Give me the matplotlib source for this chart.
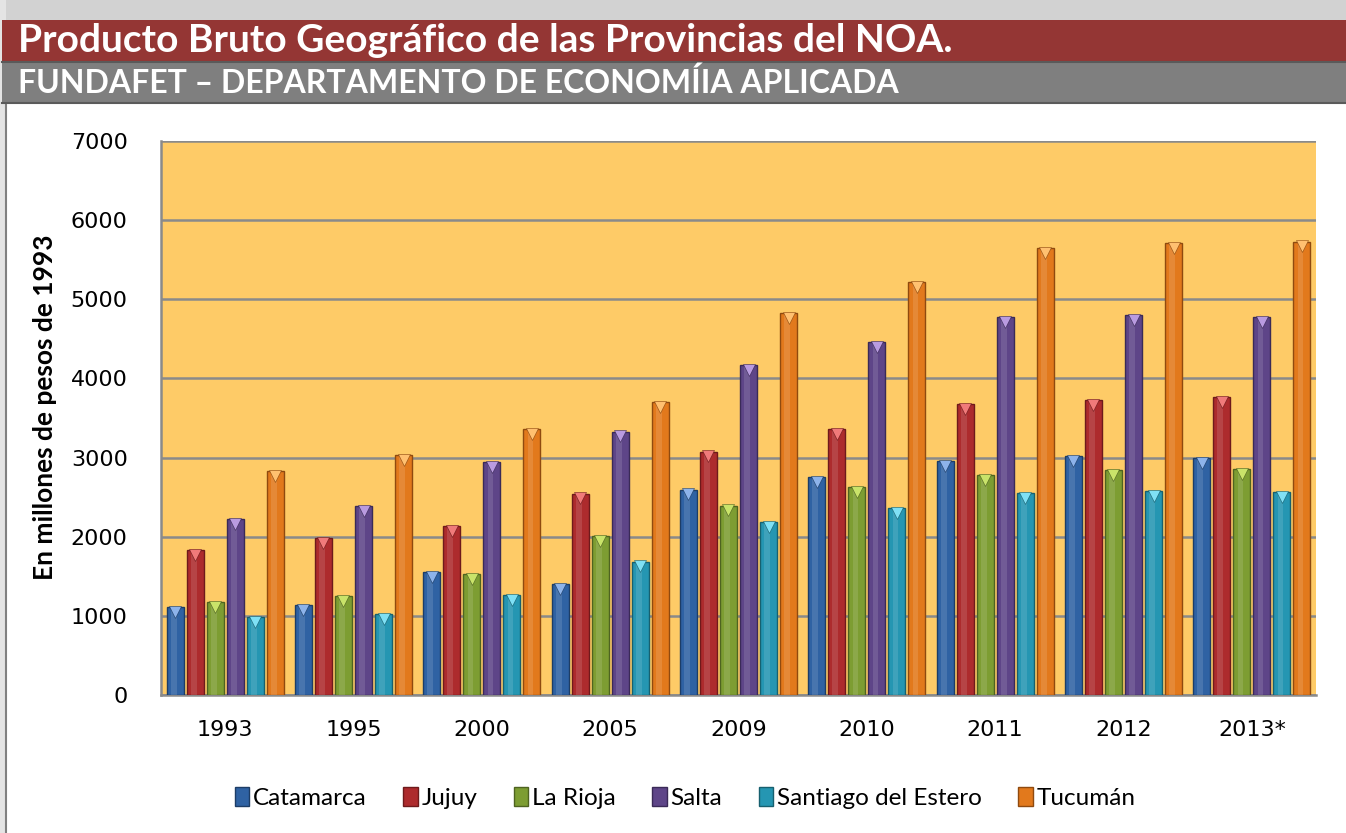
import numpy as np
import matplotlib.pyplot as plt
from matplotlib.patches import Rectangle
from matplotlib.lines import Line2D

years = ["1993", "1995", "2000", "2005", "2009", "2010", "2011", "2012", "2013*"]
provincias = ["Catamarca", "Jujuy", "La Rioja", "Salta", "Santiago del Estero", "Tucumán"]

catamarca = [1112, 1138, 1555, 1405, 2595, 2756, 2958, 3021, 2996]
jujuy = [1833, 1985, 2137, 2544, 3076, 3363, 3679, 3729, 3767]
la_rioja = [1176, 1252, 1530, 2005, 2392, 2629, 2781, 2844, 2857]
salta = [2225, 2389, 2946, 3329, 4172, 4463, 4779, 4804, 4779]
santiago = [986, 1024, 1264, 1684, 2187, 2364, 2554, 2579, 2566]
tucuman = [2832, 3034, 3363, 3696, 4829, 5221, 5651, 5714, 5727]

series = [catamarca, jujuy, la_rioja, salta, santiago, tucuman]
colores = ["#2f62a3", "#ad2b2d", "#7d9d32", "#5e4588", "#2596b2", "#e2791c"]
bordes = ["#1d3d66", "#6e1a1b", "#4e6320", "#3a2a57", "#17606f", "#8f4a0f"]
claros = ["#8db3ea", "#f07a7a", "#c9e36a", "#b99be0", "#7fe0f5", "#ffc070"]

fig = plt.figure(figsize=(13.46, 8.33), dpi=100)
fig.patch.set_facecolor("white")

W, H = 1346, 833
def px(x0, y0, w, h):
    return (x0 / W, 1 - (y0 + h) / H), w / W, h / H

# fondos de encabezado
for (x0, y0, w, h), c in [((0, 0, W, 20), "#d2d2d2"),
                          ((0, 0, 6, H), "#e4e4e4"),
                          ((2, 20, W, 42), "#943634"),
                          ((2, 62, W, 41), "#7f7f7f")]:
    xy, ww, hh = px(x0, y0, w, h)
    fig.patches.append(Rectangle(xy, ww, hh, transform=fig.transFigure,
                                 facecolor=c, edgecolor="none", zorder=0))
fig.add_artist(Line2D([6 / W, 6 / W], [0, 1 - 103 / H], transform=fig.transFigure,
                      color="#808080", lw=1.5))
fig.add_artist(Line2D([2 / W, 1], [1 - 62 / H, 1 - 62 / H], transform=fig.transFigure,
                      color="#5a5a5a", lw=1.5))
fig.add_artist(Line2D([2 / W, 1], [1 - 103 / H, 1 - 103 / H], transform=fig.transFigure,
                      color="#5a5a5a", lw=1.5))

fig.text(18 / W, 1 - 40 / H, "Producto Bruto Geográfico de las Provincias del NOA.",
         color="white", fontsize=28, fontweight="bold", family="Lato", va="center")
fig.text(18 / W, 1 - 83 / H, "FUNDAFET – DEPARTAMENTO DE ECONOMÍIA APLICADA",
         color="white", fontsize=23, fontweight="bold", family="Lato", va="center")

ax = fig.add_axes([161 / W, 1 - 695 / H, (1316 - 161) / W, (695 - 141) / H])
ax.set_facecolor("#fecb67")

x = np.arange(len(years))
paso = 0.156
ancho = 0.132
for i, (vals, c, b, cl, nombre) in enumerate(zip(series, colores, bordes, claros, provincias)):
    pos = x + (i - 2.5) * paso
    ax.bar(pos, vals, width=ancho, color=c, edgecolor=b, linewidth=1.0, zorder=3, label=nombre)
    # brillo central
    ax.bar(pos - ancho * 0.08, vals, width=ancho * 0.35, color="white", alpha=0.12,
           linewidth=0, zorder=4)
    ax.plot(pos, np.array(vals) - 60, linestyle="none", marker="v", markersize=8,
            color=cl, markeredgecolor=b, markeredgewidth=0.4, zorder=5)

ax.set_xlim(-0.5, len(years) - 0.5)
ax.set_ylim(0, 7000)
ax.set_yticks(range(0, 7001, 1000))
ax.set_xticks(x)
ax.set_xticklabels(years)
ax.grid(axis="y", color="#8a8a8a", linewidth=1.8, zorder=1)
ax.set_axisbelow(True)
for s in ["top", "right"]:
    ax.spines[s].set_visible(False)
for s in ["left", "bottom"]:
    ax.spines[s].set_color("#8a8a8a")
    ax.spines[s].set_linewidth(1.8)
ax.tick_params(axis="both", length=0, labelsize=16, colors="black")
ax.tick_params(axis="y", pad=24)
ax.tick_params(axis="x", pad=18)
ax.set_ylabel("En millones de pesos de 1993", fontsize=19, fontweight="bold",
              family="Lato")
ax.yaxis.set_label_coords(-104 / 1155, 288 / 554)

handles, labels = ax.get_legend_handles_labels()
fig.legend(handles, labels, loc="center", bbox_to_anchor=(685 / W, 1 - 798 / H), ncol=6,
           frameon=False, prop={"family": "Lato", "size": 17.5}, handlelength=0.6,
           handleheight=0.8, handletextpad=0.15, columnspacing=1.5)

fig.savefig("out.png", dpi=100)
